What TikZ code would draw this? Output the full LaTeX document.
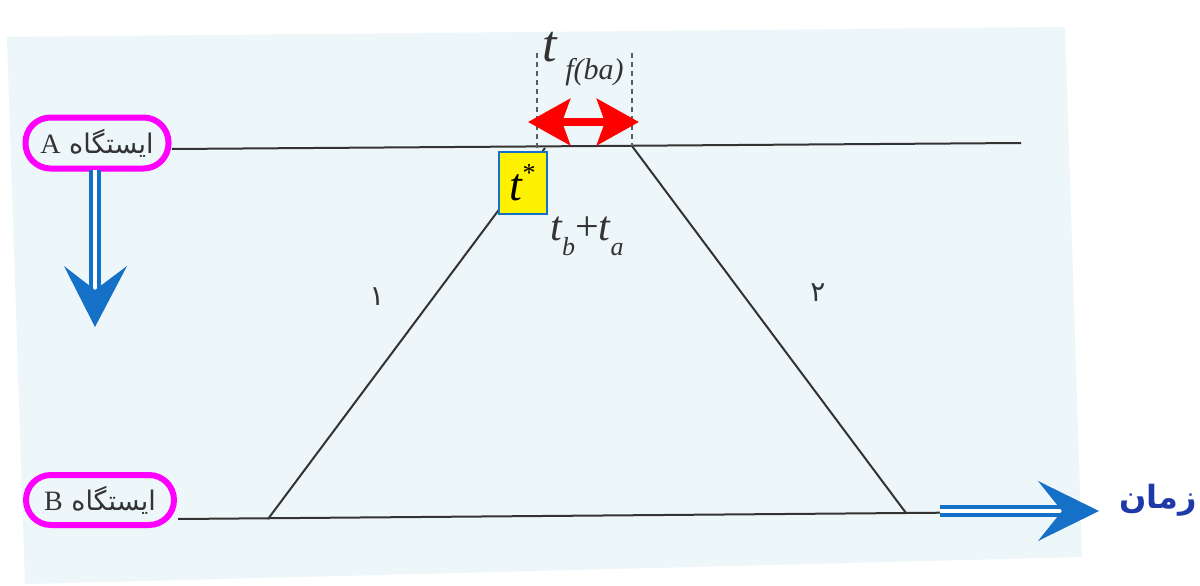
\documentclass[tikz,border=0pt]{standalone}
\usepackage{fontspec}
\setmainfont{Liberation Serif}
\newfontfamily\fa[Script=Arabic]{DejaVu Sans}
\TeXXeTstate=1
\usetikzlibrary{arrows.meta}
\definecolor{paper}{HTML}{EDF6F9}
\definecolor{ink}{HTML}{333333}
\definecolor{arrblue}{HTML}{1570C8}
\definecolor{navy}{HTML}{1F3AA8}
\definecolor{mag}{HTML}{FF00FF}
\newcommand{\subtxt}[2]{\raisebox{-0.35em}{\fontsize{#1}{#1}\selectfont\itshape #2}}
\tikzset{
  stbox/.style={draw=mag, line width=6pt, rounded corners=25pt, fill=paper, inner sep=0pt, text=ink, font=\fontsize{27}{30}\selectfont},
  track/.style={draw=ink, line width=2pt},
  trainline/.style={draw=ink, line width=2pt},
  dashmark/.style={draw=ink!80, line width=1.2pt, dash pattern=on 5pt off 4pt},
  blueshaft/.style={draw=arrblue, line width=4pt, double=white, double distance=4pt},
  bluehead/.style={fill=arrblue, draw=none},
  redarrow/.style={draw=red, line width=8pt, {Stealth[length=42pt,width=46pt,inset=8pt]}-{Stealth[length=42pt,width=46pt,inset=8pt]}},
  lbl/.style={text=ink, inner sep=0pt},
}
\begin{document}
\begin{tikzpicture}[x=1pt,y=-1pt]
\useasboundingbox (0,0) rectangle (1200,586);
\fill[white] (0,0) rectangle (1200,586);
\fill[paper] (7,37) -- (1065,27) -- (1082,557) -- (25,584) -- cycle;

% coordinates
\coordinate (topL) at (172,149);
\coordinate (topR) at (1021,143);
\coordinate (botL) at (178,519);
\coordinate (botR) at (1027,512);
\coordinate (c1b) at (268,519);
\coordinate (c1t) at (545,148);
\coordinate (c2t) at (632,146);
\coordinate (c2b) at (906,513);
\coordinate (d1t) at (537,53);
\coordinate (d1b) at (537,148);
\coordinate (d2t) at (632,53);
\coordinate (d2b) at (632,146);
\coordinate (rL) at (528,122);
\coordinate (rR) at (639,122);

% tracks
\draw[track] (topL) -- (topR);
\draw[track] (botL) -- (botR);
% train paths
\draw[trainline] (c1b) -- (c1t);
\draw[trainline] (c2t) -- (c2b);
% dashed markers
\draw[dashmark] (d1t) -- (d1b);
\draw[dashmark] (d2t) -- (d2b);
% red double arrow
\draw[redarrow] (rL) -- (rR);

% labels
\node[lbl, font=\fontsize{52}{56}\selectfont] (tf) at (583,59) {\itshape t\,\subtxt{30}{f(ba)}};
\node[draw=arrblue, line width=1.5pt, fill=yellow, minimum width=48pt, minimum height=62pt, inner sep=0pt, anchor=north west, font=\fontsize{46}{48}\selectfont] (tstar) at (498,151) {\itshape t\raisebox{0.4em}{\fontsize{26}{26}\selectfont\upshape *}};
\node[lbl, font=\fontsize{42}{46}\selectfont] (tbta) at (587,236) {\itshape t\subtxt{26}{b}\upshape +\itshape t\subtxt{26}{a}};
\node[lbl, font=\fa\fontsize{28}{30}\selectfont] (one) at (377,297) {۱};
\node[lbl, font=\fa\fontsize{28}{30}\selectfont] (two) at (818,293) {۲};

% station boxes
\node[stbox, minimum width=143pt, minimum height=51pt] (stA) at (97,143) {\fa\beginR ایستگاه {\rmfamily\fontsize{28}{30}\selectfont A}\endR};
\node[stbox, minimum width=148pt, minimum height=50pt] (stB) at (100,500) {\fa\beginR ایستگاه {\rmfamily\fontsize{28}{30}\selectfont B}\endR};

% blue down arrow
\coordinate (dS) at (95,170);
\coordinate (dE) at (95,290);
\draw[blueshaft] (dS) -- (dE);
\fill[bluehead] (95,327) -- (64,266) -- (95,290) -- (127,266) -- cycle;

% blue right arrow
\coordinate (hS) at (940,511);
\coordinate (hE) at (1063,511);
\draw[blueshaft] (hS) -- (hE);
\fill[bluehead] (1099,511) -- (1038,481) -- (1062,511) -- (1038,541) -- cycle;

\node[text=navy, inner sep=0pt, font=\fa\bfseries\fontsize{32}{36}\selectfont] (time) at (1158,500) {\beginR زمان\endR};
\end{tikzpicture}
\end{document}
